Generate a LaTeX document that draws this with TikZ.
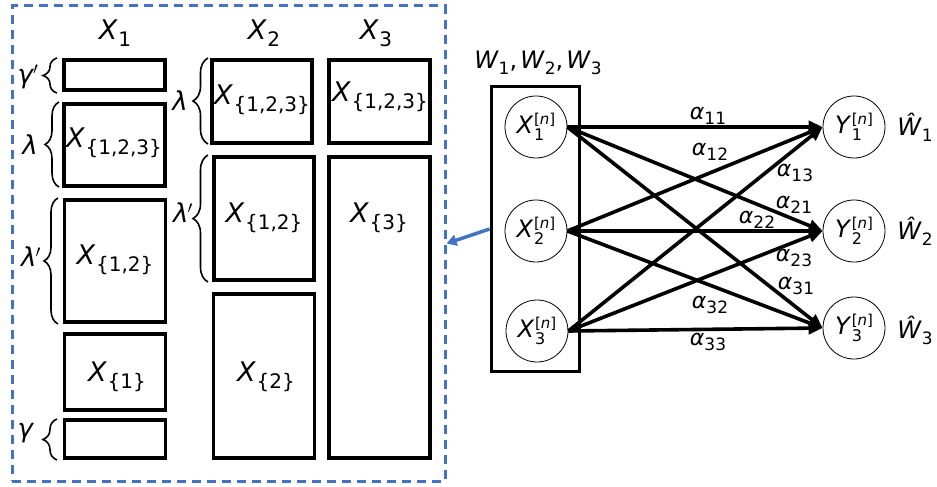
\documentclass[tikz,border=0pt]{standalone}
\usepackage{fontspec}
\setmainfont{DejaVu Sans}
\usetikzlibrary{arrows.meta,decorations.pathreplacing}
\definecolor{dblue}{RGB}{68,114,196}
\newcommand\BX[1]{{\fontsize{27}{30}\selectfont\textit{X}\kern0.5pt\raisebox{-7pt}{\fontsize{20}{22}\selectfont #1}}}
\newcommand\CX[2]{{\fontsize{24}{26}\selectfont\textit{#1}\kern0.5pt\rlap{\raisebox{-7pt}{\fontsize{16}{17}\selectfont #2}}\raisebox{9pt}{\fontsize{15}{16}\selectfont[\textit{n}]}}}
\newcommand\AL[1]{{\fontsize{22}{24}\selectfont\textit{α}\raisebox{-5pt}{\fontsize{17}{18}\selectfont #1}}}
\newcommand\GL[1]{{\fontsize{26}{28}\selectfont\textit{#1}}}
\newcommand\PR{{\fontsize{26}{28}\selectfont\kern-1pt$'$}}
\newcommand\WW[2]{{\fontsize{24}{26}\selectfont\textit{#1}\raisebox{-6pt}{\fontsize{17}{18}\selectfont #2}}}
\tikzset{
  blk/.style={draw,line width=3.8pt,inner sep=0pt},
  frm/.style={draw=dblue,line width=3pt,dash pattern=on 9pt off 6pt,inner sep=0pt},
  circ/.style={draw,circle,line width=0.8pt,minimum size=62pt,inner sep=0pt},
  lbl/.style={inner sep=0pt,anchor=center},
  brc/.style={decorate,decoration={brace,amplitude=14pt},line width=1.6pt},
  brc2/.style={decorate,decoration={brace,amplitude=15pt},line width=1.6pt},
  link/.style={line width=3.6pt,-{Triangle[length=14pt,width=12pt]}},
}
\begin{document}
\begin{tikzpicture}[x=1pt,y=-1pt]
\useasboundingbox (0,0) rectangle (937,487);
% dashed frame
\node[frm,minimum width=433pt,minimum height=475pt] (frame) at (228.5,243.5) {};
% headers
\node[lbl] (h1) at (115,33) {\BX{1}};
\node[lbl] (h2) at (264,33) {\BX{2}};
\node[lbl] (h3) at (376,33) {\BX{3}};
% column 1
\node[blk,minimum width=101pt,minimum height=30pt] (c1a) at (114.5,75) {};
\node[blk,minimum width=101pt,minimum height=82pt] (c1b) at (114.5,145) {};
\node[blk,minimum width=101pt,minimum height=122pt] (c1c) at (115,261) {};
\node[blk,minimum width=101pt,minimum height=76pt] (c1d) at (115,372) {};
\node[blk,minimum width=101pt,minimum height=38pt] (c1e) at (115,439) {};
\node[lbl] (t1b) at (114,143) {\BX{\{1,2,3\}}};
\node[lbl] (t1c) at (115,260) {\BX{\{1,2\}}};
\node[lbl] (t1d) at (117,377) {\BX{\{1\}}};
% column 2
\node[blk,minimum width=100pt,minimum height=83pt] (c2a) at (262,101.5) {};
\node[blk,minimum width=100pt,minimum height=123pt] (c2b) at (264,218.5) {};
\node[blk,minimum width=101pt,minimum height=164pt] (c2c) at (264,376) {};
\node[lbl] (t2a) at (262,100) {\BX{\{1,2,3\}}};
\node[lbl] (t2b) at (264,218) {\BX{\{1,2\}}};
\node[lbl] (t2c) at (266,377) {\BX{\{2\}}};
% column 3
\node[blk,minimum width=101pt,minimum height=83pt] (c3a) at (379.5,101.5) {};
\node[blk,minimum width=101pt,minimum height=301pt] (c3b) at (379.5,307.5) {};
\node[lbl] (t3a) at (380,97) {\BX{\{1,2,3\}}};
\node[lbl] (t3b) at (379,218) {\BX{\{3\}}};
% braces column 1
\draw[brc] (57,93) -- (57,58);
\draw[brc] (59,187) -- (59,102);
\draw[brc] (58,324) -- (58,198);
\draw[brc] (57,460) -- (57,419);
\node[lbl] (g1) at (28,77) {\GL{γ}\PR};
\node[lbl] (l1) at (30,145) {\GL{λ}};
\node[lbl] (l2) at (31,257) {\GL{λ}\PR};
\node[lbl] (g2) at (26,433) {\GL{γ}};
% braces column 2
\draw[brc2] (208,144) -- (208,58);
\draw[brc2] (208,282) -- (208,155);
\node[lbl] (l3) at (180,101) {\GL{λ}};
\node[lbl] (l4) at (183,213) {\GL{λ}\PR};
% transmitter box
\node[blk,minimum width=88pt,minimum height=285pt] (wbox) at (535.5,229) {};
\node[lbl] (wlab) at (538,63) {\WW{W}{1}{\fontsize{24}{26}\selectfont,} \WW{W}{2}{\fontsize{24}{26}\selectfont,} \WW{W}{3}};
\node[circ] (x1) at (536,127) {\CX{X}{1}};
\node[circ] (x2) at (536,231) {\CX{X}{2}};
\node[circ] (x3) at (537,331) {\CX{X}{3}};
\node[circ] (y1) at (854,127) {\CX{Y}{1}};
\node[circ] (y2) at (854,231) {\CX{Y}{2}};
\node[circ] (y3) at (854,328) {\CX{Y}{3}};
\node[lbl] (w1) at (915,127) {\WW{\^W}{1}};
\node[lbl] (w2) at (915,231) {\WW{\^W}{2}};
\node[lbl] (w3) at (915,330) {\WW{\^W}{3}};
% links
\foreach \i in {1,2,3}{\foreach \j in {1,2,3}{\draw[link] (x\i.east) -- (y\j.west);}}
% alpha labels
\node[lbl] (a11) at (708,116) {\AL{11}};
\node[lbl] (a12) at (710,152) {\AL{12}};
\node[lbl] (a13) at (795,173) {\AL{13}};
\node[lbl] (a21) at (794,205) {\AL{21}};
\node[lbl] (a22) at (757,220) {\AL{22}};
\node[lbl] (a23) at (794,258) {\AL{23}};
\node[lbl] (a31) at (796,286) {\AL{31}};
\node[lbl] (a32) at (710,305) {\AL{32}};
\node[lbl] (a33) at (708,342) {\AL{33}};
% blue arrow
\draw[dblue,line width=3.5pt,-{Triangle[length=10pt,width=11pt]}] (wbox.west) -- (frame.east);
\end{tikzpicture}
\end{document}
